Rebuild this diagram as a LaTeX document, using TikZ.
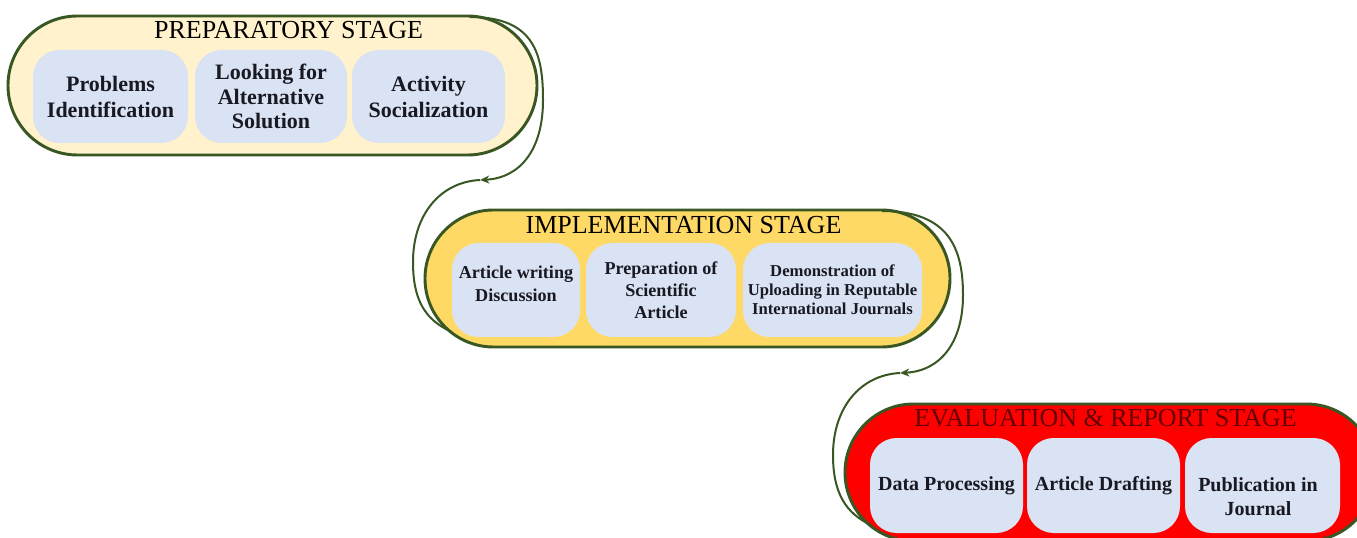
\documentclass[tikz,border=0pt]{standalone}
\usepackage{fontspec}
\setmainfont{Liberation Serif}
\usetikzlibrary{shapes.misc,arrows.meta}
\definecolor{dgreen}{RGB}{56,87,35}
\definecolor{cream}{RGB}{255,242,204}
\definecolor{gold}{RGB}{255,217,102}
\definecolor{boxblue}{RGB}{218,227,243}
\definecolor{txt}{RGB}{25,25,35}
\definecolor{dred}{RGB}{100,0,0}
\tikzset{
  stage/.style={rounded rectangle, draw=dgreen, line width=2.2pt, inner sep=0pt},
  ibox/.style={rectangle, fill=boxblue, rounded corners=20pt, inner sep=0pt, align=center, text=txt},
  itext/.style={align=center, text=txt, inner sep=0pt},
  ttl/.style={inner sep=0pt, font=\fontsize{19.5}{22}\selectfont},
  conn/.style={draw=dgreen, line width=1.5pt},
  tip/.style={-{Stealth[length=7pt,width=6pt]}}
}
\begin{document}
\begin{tikzpicture}[x=0.75pt,y=-0.75pt]
\clip (0,0) rectangle (1357,538);
\fill[white] (0,0) rectangle (1357,538);

% ---------- Stage 1
\node[stage, fill=cream, minimum width=396.75pt, minimum height=104.25pt] (s1) at (272.5,85.5) {};
\node[ttl] (t1) at (288.5,30) {PREPARATORY STAGE};
\node[ibox, minimum width=116.25pt, minimum height=69.75pt, font=\fontsize{16.5}{19.5}\selectfont\bfseries] (b11) at (110.5,96.5) {Problems\\Identification};
\node[ibox, minimum width=114pt, minimum height=69.75pt, font=\fontsize{16.5}{18.5}\selectfont\bfseries] (b12) at (271,96.5) {Looking for\\Alternative\\Solution};
\node[ibox, minimum width=114.75pt, minimum height=69.75pt, font=\fontsize{16.5}{19.5}\selectfont\bfseries] (b13) at (428.5,96.5) {Activity\\Socialization};

% ---------- Stage 2
\node[stage, fill=gold, minimum width=393.75pt, minimum height=102.75pt] (s2) at (687.5,278.5) {};
\node[ttl] (t2) at (683.5,225.5) {IMPLEMENTATION STAGE};
\node[ibox, minimum width=96pt, minimum height=70.5pt] (b21) at (516,290) {};
\node[itext, font=\fontsize{13.6}{17}\selectfont\bfseries] (x21) at (516,284) {Article writing\\Discussion};
\node[ibox, minimum width=112.5pt, minimum height=70.5pt, font=\fontsize{13.6}{16.5}\selectfont\bfseries] (b22) at (661,290) {Preparation of\\Scientific\\Article};
\node[ibox, minimum width=134.25pt, minimum height=70.5pt, font=\fontsize{12.5}{14.3}\selectfont\bfseries] (b23) at (832.5,290) {Demonstration of\\Uploading in Reputable\\International Journals};

% ---------- Stage 3
\node[stage, fill=red, minimum width=397.5pt, minimum height=102.75pt] (s3) at (1110,472.5) {};
\node[ttl, text=dred] (t3) at (1105.5,418) {EVALUATION \& REPORT STAGE};
\node[ibox, minimum width=114.75pt, minimum height=71.25pt, font=\fontsize{15}{18}\selectfont\bfseries] (b31) at (946.5,485.5) {Data Processing};
\node[ibox, minimum width=114.75pt, minimum height=71.25pt, font=\fontsize{15}{18}\selectfont\bfseries] (b32) at (1103.5,485.5) {Article Drafting};
\node[ibox, minimum width=116.25pt, minimum height=71.25pt] (b33) at (1262.5,485.5) {};
\node[itext, font=\fontsize{15}{18}\selectfont\bfseries] (x33) at (1258,497) {Publication in\\Journal};

% ---------- Connectors
\coordinate (c1s) at (470,17);
\coordinate (c1m) at (480,180);
\coordinate (c1e) at (452,332);
\coordinate (c2s) at (882,211);
\coordinate (c2m) at (900,373);
\coordinate (c2e) at (871,525);

\draw[conn, tip] (c1s) .. controls (535,17) and (543,55) .. (543,100)
      .. controls (543,150) and (520,178) .. (c1m);
\draw[conn] (c1m) .. controls (440,182) and (413,215) .. (413,262)
      .. controls (413,300) and (425,320) .. (c1e);

\draw[conn, tip] (c2s) .. controls (950,211) and (963,250) .. (963,295)
      .. controls (963,343) and (940,371) .. (c2m);
\draw[conn] (c2m) .. controls (860,375) and (833,408) .. (833,455)
      .. controls (833,492) and (845,513) .. (c2e);
\end{tikzpicture}
\end{document}
